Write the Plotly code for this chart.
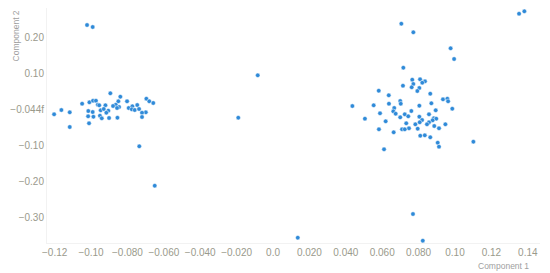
import plotly.graph_objects as go

comp1 = [
    0.1352, 0.1381, 0.0705, 0.0771, 0.0976, 0.0995, 0.0716, 0.0765, 0.0808, 0.0835,
    0.0820, 0.0771, 0.0762, 0.0804, 0.0793, 0.0714, 0.0581, 0.0636, 0.0864, 0.0699,
    0.0702, 0.0637, 0.0553, 0.0436, 0.0870, 0.0804, 0.0934, 0.0958, 0.0962, 0.0985,
    0.0666, 0.0661, 0.0674, 0.0588, 0.0760, 0.0724, 0.0699, 0.0743, 0.0894, 0.0505,
    0.0804, 0.0819, 0.0806, 0.0857, 0.0883, 0.0897, 0.0877, 0.0857, 0.0846, 0.0947,
    0.0732, 0.0782, 0.0886, 0.0912, 0.0619, 0.0582, 0.0747, 0.0795, 0.0709, 0.0724,
    0.0663, 0.0809, 0.0834, 0.0864, 0.0905, 0.0912, 0.1101, 0.0610, 0.0769, 0.0823,
    0.0136, -0.0084, -0.0191,
    -0.1203, -0.1163, -0.1117, -0.1117, -0.1049, -0.1009, -0.0989, -0.0973, -0.0963, -0.0955,
    -0.0894, -0.0839, -0.0850, -0.0864, -0.0879, -0.0846, -0.0921, -0.0947, -0.0930, -0.0905,
    -0.0916, -0.0991, -0.1015, -0.1016, -0.0987, -0.0951, -0.0941, -0.1011, -0.0901, -0.0855,
    -0.0857, -0.0802, -0.0793, -0.0773, -0.0776, -0.0746, -0.0760, -0.0736, -0.0699, -0.0720,
    -0.0720, -0.0696, -0.0680, -0.0658, -0.0735, -0.0650, -0.1022, -0.0991,
]
comp2 = [
    0.2647, 0.2714, 0.2369, 0.2131, 0.1686, 0.1389, 0.1147, 0.0814, 0.0825, 0.0769,
    0.0731, 0.0694, 0.0603, 0.0583, 0.0500, 0.0647, 0.0508, 0.0381, 0.0425, 0.0222,
    0.0147, 0.0147, 0.0103, 0.0083, 0.0158, 0.0092, 0.0269, 0.0286, 0.0214, 0.0008,
    0.0028, -0.0064, -0.0131, -0.0119, -0.0056, -0.0147, -0.0231, -0.0203, -0.0036, -0.0269,
    -0.0214, -0.0306, -0.0369, -0.0147, -0.0258, -0.0269, -0.0314, -0.0369, -0.0425, -0.0425,
    -0.0397, -0.0425, -0.0472, -0.0536, -0.0342, -0.0564, -0.0536, -0.0547, -0.0564, -0.0564,
    -0.0647, -0.0742, -0.0731, -0.0786, -0.0936, -0.1047, -0.0908, -0.1119, -0.2917, -0.3658,
    -0.3575, 0.0936, -0.0242,
    -0.0147, -0.0028, -0.0092, -0.0500, 0.0147, 0.0186, 0.0231, 0.0231, 0.0119, 0.0103,
    0.0436, 0.0342, 0.0214, 0.0119, 0.0083, 0.0056, 0.0103, -0.0036, 0.0000, -0.0047,
    -0.0103, -0.0083, -0.0056, -0.0203, -0.0214, -0.0186, -0.0258, -0.0397, -0.0250, -0.0242,
    0.0028, 0.0214, 0.0028, 0.0075, -0.0008, 0.0111, -0.0028, 0.0000, -0.0092, -0.0103,
    -0.0222, 0.0286, 0.0214, 0.0167, -0.1036, -0.2131, 0.2333, 0.2278,
]

x_tickvals = [-0.12, -0.10, -0.08, -0.06, -0.04, -0.02, 0.0, 0.02, 0.04, 0.06, 0.08, 0.10, 0.12, 0.14]
x_ticktext = ["−0.12", "−0.10", "−0.080", "−0.060", "−0.040", "−0.020", "0.0",
              "0.020", "0.040", "0.060", "0.080", "0.10", "0.12", "0.14"]
y_tickvals = [0.2, 0.1, 0.0, -0.1, -0.2, -0.3]
y_ticktext = ["0.20", "0.10", "−0.044f", "−0.10", "−0.20", "−0.30"]

fig = go.Figure(go.Scatter(
    x=comp1, y=comp2, mode="markers",
    marker=dict(size=4.5, color="#2f8ad8", line=dict(color="white", width=0.5)),
))

font_family = "Liberation Sans, Arial, sans-serif"
tickfont = dict(family=font_family, size=10, color="#9a9a8c")
titlefont = dict(family=font_family, size=8.5, color="#a0a0a0")
# page has an 8px body margin, so the figure is 8px smaller than the window
fig.update_layout(
    template="none",
    width=542, height=265,
    margin=dict(l=39, r=10, t=0, b=30, autoexpand=False),
    paper_bgcolor="white", plot_bgcolor="white",
    showlegend=False,
    xaxis=dict(range=[-0.1242, 0.1467], tickvals=x_tickvals, ticktext=x_ticktext,
               showgrid=False, zeroline=False, showline=True, linecolor="#f2f2f2",
               ticks="", tickfont=tickfont, automargin=False),
    yaxis=dict(range=[-0.3722, 0.2806], tickvals=y_tickvals, ticktext=y_ticktext,
               showgrid=False, zeroline=False, showline=True, linecolor="#f2f2f2",
               ticks="", tickfont=tickfont, automargin=False),
    annotations=[
        dict(text="Component 1", xref="paper", yref="paper", x=0.982, y=-0.098,
             xanchor="right", yanchor="middle", showarrow=False, font=titlefont),
        dict(text="Component 2", xref="paper", yref="paper", x=-0.063, y=1.0,
             xanchor="center", yanchor="top", textangle=-90, showarrow=False,
             font=titlefont),
    ],
)

fig.write_html("out.html")
